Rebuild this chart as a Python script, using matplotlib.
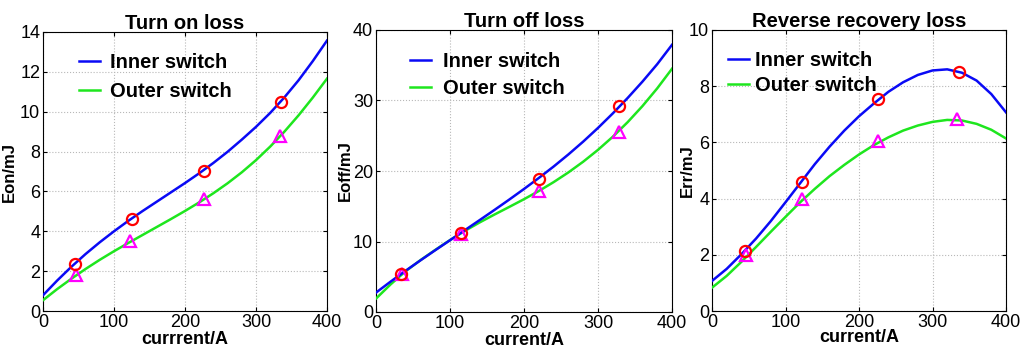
import matplotlib
matplotlib.use("Agg")
import matplotlib.pyplot as plt

plt.rcParams['font.family'] = ['Liberation Sans', 'DejaVu Sans']

# Fitted loss curves, sampled every 20 A
current = [0, 20, 40, 60, 80, 100, 120, 140, 160, 180, 200,
           220, 240, 260, 280, 300, 320, 340, 360, 380, 400]

eon_inner = [0.79, 1.53, 2.22, 2.86, 3.45, 4.00, 4.52, 5.01, 5.48, 5.95, 6.42,
             6.91, 7.43, 7.99, 8.60, 9.24, 9.94, 10.72, 11.58, 12.54, 13.57]
eon_outer = [0.54, 1.10, 1.62, 2.11, 2.57, 3.00, 3.41, 3.81, 4.21, 4.61, 5.02,
             5.45, 5.91, 6.41, 6.96, 7.57, 8.25, 9.00, 9.82, 10.71, 11.66]

eoff_inner = [2.75, 4.33, 5.85, 7.32, 8.76, 10.18, 11.60, 13.03, 14.47, 15.94, 17.45,
              19.01, 20.63, 22.35, 24.17, 26.11, 28.17, 30.35, 32.67, 35.15, 37.90]
eoff_outer = [1.90, 3.94, 5.78, 7.35, 8.80, 10.20, 11.50, 12.70, 13.82, 14.90, 16.00,
              17.16, 18.42, 19.80, 21.32, 23.00, 24.86, 26.92, 29.20, 31.72, 34.50]

err_inner = [1.07, 1.50, 2.02, 2.58, 3.20, 3.87, 4.55, 5.23, 5.85, 6.42, 6.93,
             7.38, 7.80, 8.14, 8.40, 8.56, 8.60, 8.48, 8.20, 7.72, 7.07]
err_outer = [0.83, 1.25, 1.75, 2.28, 2.82, 3.35, 3.87, 4.35, 4.80, 5.20, 5.57,
             5.90, 6.18, 6.42, 6.60, 6.73, 6.80, 6.78, 6.66, 6.45, 6.14]

# Measured points
eon_meas_i_x = [45, 124.7, 226.5, 335.7]
eon_meas_i_y = [2.38, 4.61, 7.03, 10.47]
eon_meas_o_x = [46.4, 123, 226.5, 334]
eon_meas_o_y = [1.80, 3.52, 5.60, 8.76]

eoff_meas_i_x = [33.7, 114.3, 219.6, 328.5]
eoff_meas_i_y = [5.44, 11.27, 18.93, 29.16]
eoff_meas_o_x = [35.5, 115, 219.6, 328.5]
eoff_meas_o_y = [5.35, 11.10, 17.20, 25.60]

err_meas_i_x = [44.5, 123, 226, 335.5]
err_meas_i_y = [2.14, 4.60, 7.54, 8.50]
err_meas_o_x = [45.9, 123, 225.6, 334]
err_meas_o_y = [1.98, 3.98, 6.06, 6.83]

titles = ["Turn on loss", "Turn off loss", "Reverse recovery loss"]
xlabels = ["currrent/A", "current/A", "current/A"]
ylabels = ["Eon/mJ", "Eoff/mJ", "Err/mJ"]
ylims = [14, 40, 10]
yticks = [[0, 2, 4, 6, 8, 10, 12, 14], [0, 10, 20, 30, 40], [0, 2, 4, 6, 8, 10]]
xticks = [0, 100, 200, 300, 400]
series_names = ["Inner switch", "Outer switch"]

fig = plt.figure(figsize=(10.24, 3.49), dpi=100)
W, H = 1024.0, 349.0
boxes = [(43, 32, 327, 311), (376, 30, 672, 312), (712, 30, 1006, 311)]
leg_anchor = [(0.127, 0.925), (0.115, 0.922), (0.054, 0.926)]
leg_spacing = [0.50, 0.42, 0.30]
leg_textpad = [0.5, 0.6, 0.3]
ylabel_x = [-0.0915, -0.078, -0.058]
xlabel_y = [-0.070, -0.071, -0.064]

data = [
    (eon_inner, eon_outer, eon_meas_i_x, eon_meas_i_y, eon_meas_o_x, eon_meas_o_y),
    (eoff_inner, eoff_outer, eoff_meas_i_x, eoff_meas_i_y, eoff_meas_o_x, eoff_meas_o_y),
    (err_inner, err_outer, err_meas_i_x, err_meas_i_y, err_meas_o_x, err_meas_o_y),
]

for k, (l, t, r, b) in enumerate(boxes):
    ax = fig.add_axes([l / W, 1 - b / H, (r - l) / W, (b - t) / H])
    inner, outer, mix, miy, mox, moy = data[k]
    ax.plot(current, inner, color="#0a0af5", lw=1.8, label=series_names[0], zorder=4)
    ax.plot(current, outer, color="#1ee61e", lw=1.8, label=series_names[1], zorder=3)
    ax.plot(mox, moy, linestyle="none", marker="^", markersize=8.5, markerfacecolor="none",
            markeredgecolor="#ff00ff", markeredgewidth=1.6, zorder=5)
    ax.plot(mix, miy, linestyle="none", marker="o", markersize=8, markerfacecolor="none",
            markeredgecolor="#ff0000", markeredgewidth=1.6, zorder=6)
    ax.set_xlim(0, 400)
    ax.set_ylim(0, ylims[k])
    ax.set_xticks(xticks)
    ax.set_yticks(yticks[k])
    ax.grid(True, color="#b8b8b8", linestyle=":", linewidth=0.8)
    ax.tick_params(direction="in", length=3, labelsize=13, top=True, right=True, pad=2)
    for s in ax.spines.values():
        s.set_linewidth(0.8)
    ax.set_title(titles[k], fontsize=14.5, fontweight="bold", pad=2.5)
    ax.set_xlabel(xlabels[k], fontsize=13, fontweight="bold")
    ax.xaxis.set_label_coords(0.5, xlabel_y[k])
    ax.set_ylabel(ylabels[k], fontsize=12, fontweight="bold")
    ax.yaxis.set_label_coords(ylabel_x[k], 0.5)
    ax.legend(loc="upper left", bbox_to_anchor=leg_anchor[k], frameon=False,
              prop={"size": 14.5, "weight": "bold"}, handlelength=1.05,
              handletextpad=leg_textpad[k], labelspacing=leg_spacing[k],
              borderaxespad=0, borderpad=0)

fig.savefig("out.png", dpi=100)
